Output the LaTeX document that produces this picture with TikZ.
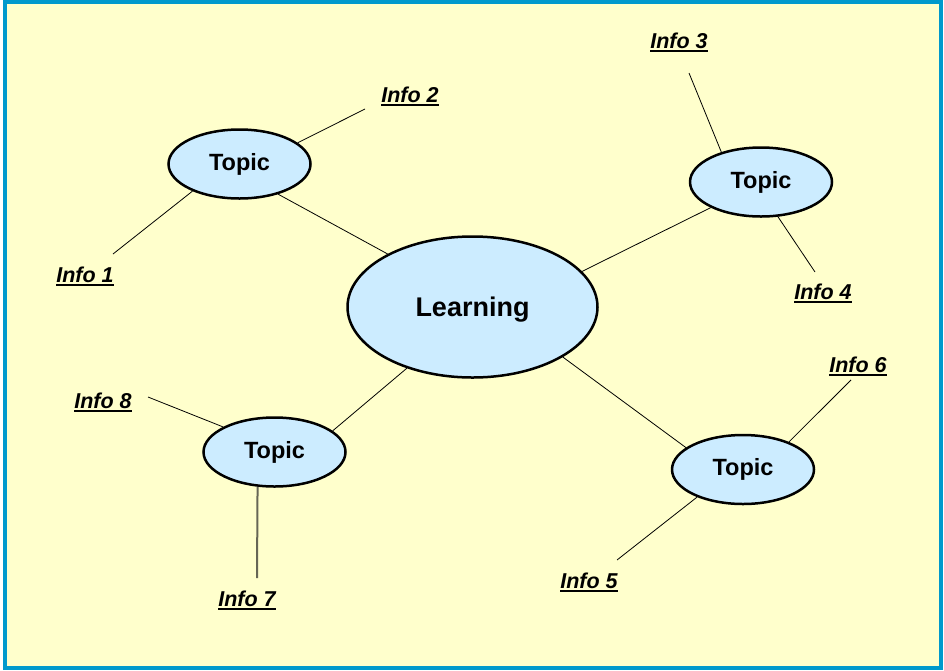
\documentclass[tikz,border=0pt]{standalone}
\usepackage{fontspec}
\setmainfont{Liberation Sans}
\usetikzlibrary{shapes.geometric}
\definecolor{paper}{HTML}{FFFFCC}
\definecolor{frame}{HTML}{0099CC}
\definecolor{bubble}{HTML}{CCECFF}
\definecolor{stem}{HTML}{666655}
\newsavebox\infobox
\newcommand{\infolabel}[1]{\sbox\infobox{#1}\rlap{\vrule width\wd\infobox height -1.8pt depth 4pt}\usebox\infobox}
\tikzset{
	topic/.style={ellipse, draw, fill=bubble, line width=2.5pt, inner sep=0pt,
		minimum width=142pt, minimum height=69pt, font=\bfseries\fontsize{23.5}{26}\selectfont},
	centre/.style={topic, minimum width=250pt, minimum height=141pt, text depth=0pt,
		font=\bfseries\fontsize{27}{30}\selectfont},
	info/.style={anchor=base, inner sep=0pt, font=\bfseries\itshape\fontsize{21.5}{24}\selectfont},
	branch/.style={line width=0.8pt}
}
\begin{document}
\begin{tikzpicture}[x=1pt, y=-1pt]
	\useasboundingbox (0,0) rectangle (944,670);
	\fill[white] (0,0) rectangle (944,670);
	\filldraw[draw=frame, fill=paper, line width=4pt] (5,2) rectangle (941,668);

	\node[centre] (learn) at (472.5,307) {Learning};
	\node[topic] (tl) at (239.5,164) {Topic};
	\node[topic] (tr) at (761,182) {Topic};
	\node[topic] (bl) at (274.5,452) {Topic};
	\node[topic] (br) at (743,469.5) {Topic};

	\node[info] (i1) at (85,282) {\infolabel{Info 1}};
	\node[info] (i2) at (410,102) {\infolabel{Info 2}};
	\node[info] (i3) at (679,48) {\infolabel{Info 3}};
	\node[info] (i4) at (823,299) {\infolabel{Info 4}};
	\node[info] (i5) at (589,588) {\infolabel{Info 5}};
	\node[info] (i6) at (858,372) {\infolabel{Info 6}};
	\node[info] (i7) at (247,606) {\infolabel{Info 7}};
	\node[info] (i8) at (103,408) {\infolabel{Info 8}};

	\coordinate (e1) at (113,254);
	\coordinate (e2) at (365,109);
	\coordinate (e3) at (689,73);
	\coordinate (e4) at (815,272);
	\coordinate (e5) at (617,560);
	\coordinate (e6) at (851,380);
	\coordinate (e7) at (257,578);
	\coordinate (e8) at (148,397);

	% centre to topics
	\draw[branch] (learn.148) -- (tl.-38);
	\draw[branch] (learn.18.5) -- (tr.207);
	\draw[branch] (learn.223.5) -- (bl.20.8);
	\draw[branch] (learn.-29.3) -- (br.159.4);

	% topics to infos
	\draw[branch] (tl.210) -- (e1);
	\draw[branch] (tl.20) -- (e2);
	\draw[branch] (tr.143.6) -- (e3);
	\draw[branch] (tr.-64) -- (e4);
	\draw[branch] (br.211) -- (e5);
	\draw[branch] (br.31) -- (e6);
	\draw[stem, line width=2pt] (bl.-116) -- (e7);
	\draw[branch] (bl.154.5) -- (e8);
\end{tikzpicture}
\end{document}
